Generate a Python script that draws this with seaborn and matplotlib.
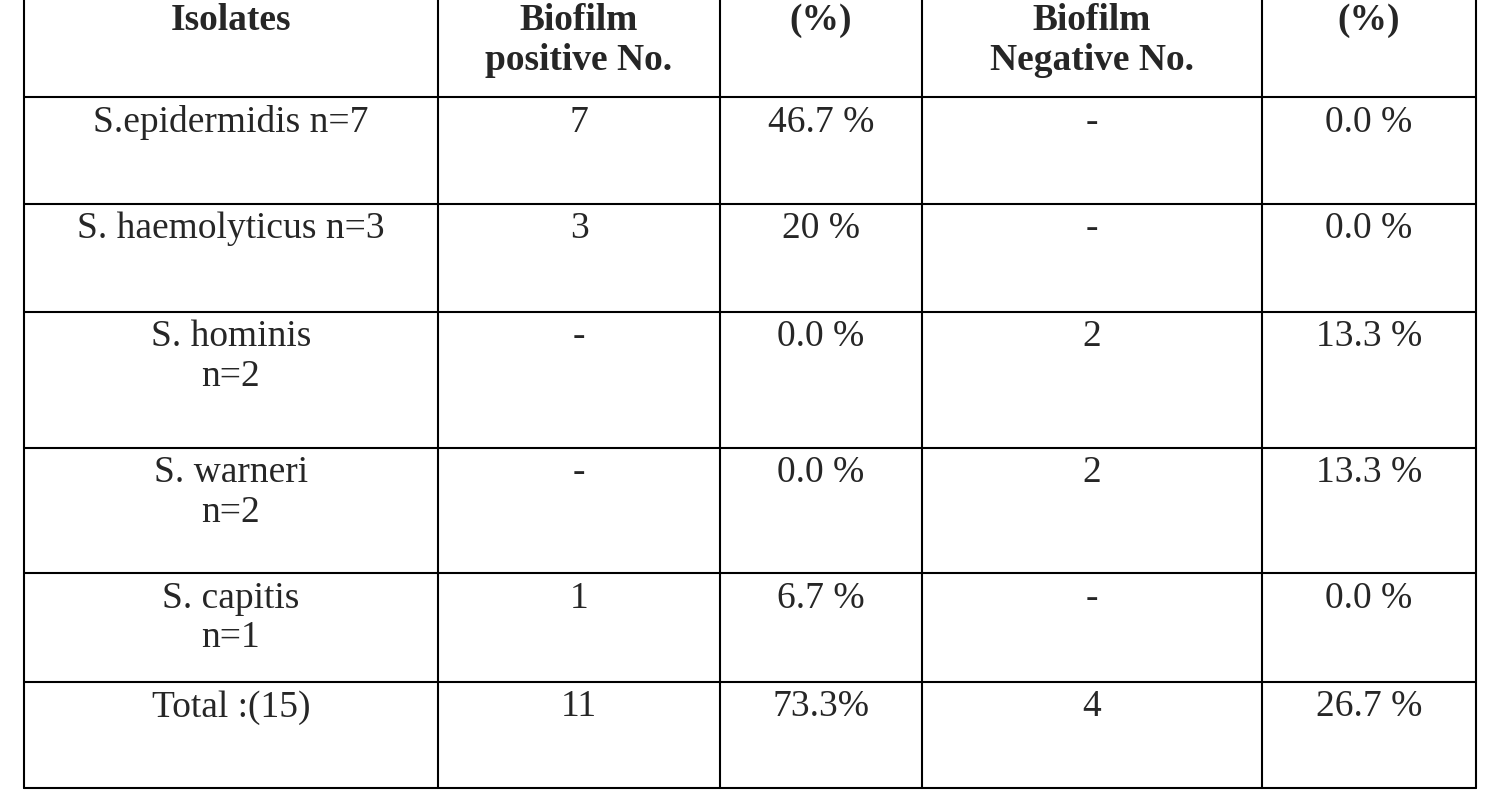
import matplotlib.pyplot as plt
import seaborn as sns

sns.set_theme(style="white")
plt.rcParams['font.family'] = ['Liberation Serif', 'DejaVu Serif']

headers = ["Isolates", "Biofilm\npositive No.", "(%)", "Biofilm\nNegative No.", "(%)"]
isolates = ["S.epidermidis n=7", "S. haemolyticus n=3", "S. hominis\nn=2",
            "S. warneri\nn=2", "S. capitis\nn=1", "Total :(15)"]
pos_no = ["7", "3", "-", "-", "1", "11"]
pos_pct = ["46.7 %", "20 %", "0.0 %", "0.0 %", "6.7 %", "73.3%"]
neg_no = ["-", "-", "2", "2", "-", "4"]
neg_pct = ["0.0 %", "0.0 %", "13.3 %", "13.3 %", "0.0 %", "26.7 %"]

col_edges = [24, 438, 720, 922, 1262, 1476]
row_edges = [-2, 97, 204, 312, 448, 573, 682, 788]

fig = plt.figure(figsize=(14.97, 7.99), dpi=100)
ax = fig.add_axes([0, 0, 1, 1])
ax.set_xlim(0, 1497)
ax.set_ylim(799, 0)
ax.axis("off")

for x in col_edges:
    ax.plot([x, x], [row_edges[0], row_edges[-1]], color="black", lw=1.5)
for y in row_edges:
    ax.plot([col_edges[0], col_edges[-1]], [y, y], color="black", lw=1.5)

centers = [(a + b) / 2 for a, b in zip(col_edges[:-1], col_edges[1:])]
for c, h in zip(centers, headers):
    ax.text(c, 3, h, ha="center", va="top", fontsize=27, fontweight="bold",
            linespacing=1.2)

columns = [isolates, pos_no, pos_pct, neg_no, neg_pct]
for r in range(len(isolates)):
    top = row_edges[r + 1] + 8
    for c, col in zip(centers, columns):
        ax.text(c, top, col[r], ha="center", va="top", fontsize=27, linespacing=1.2)

fig.savefig("out.png", dpi=100)
